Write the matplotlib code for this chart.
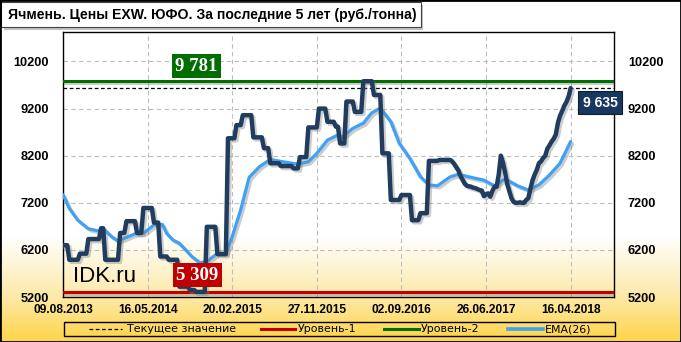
import numpy as np
import matplotlib
matplotlib.use("Agg")
import matplotlib.pyplot as plt
from matplotlib.patches import Rectangle
from matplotlib.lines import Line2D
import matplotlib.patheffects as pe

# ---------------- data ----------------
title = "Ячмень. Цены EXW. ЮФО. За последние 5 лет (руб./тонна)"
tick_labels = ["09.08.2013", "16.05.2014", "20.02.2015", "27.11.2015",
               "02.09.2016", "26.06.2017", "16.04.2018"]
tick_weeks = [0, 40, 80, 120, 160, 200, 240]
y_ticks = [5200, 6200, 7200, 8200, 9200, 10200]

# weekly price, руб./тонна
price = [
    6300, 6300, 6300,
    5990, 5990, 5990, 5990, 5990,
    6120, 6120, 6120, 6120,
    6430, 6430, 6430, 6430, 6430, 6430,
    6660, 6660,
    5990, 5990, 5990, 5990, 5990, 5990, 5990,
    6560, 6560, 6560,
    6810, 6810, 6810, 6810, 6810,
    6560, 6560, 6560,
    7090, 7090, 7090, 7090, 7090,
    6780, 6780, 6780,
    6060, 6060, 6060, 6060,
    5990, 5990, 5990, 5990, 5990,
    5420, 5420, 5420, 5420, 5420,
    5350, 5350, 5350,
    5309, 5309, 5309, 5309, 5309,
    6690, 6690, 6690, 6690, 6690,
    6110, 6110, 6110, 6110, 6110,
    8570, 8570, 8570, 8570,
    8850, 8850, 8850,
    9060, 9060, 9060, 9060, 9060,
    8590, 8590, 8590, 8590, 8590,
    8360, 8360, 8360,
    8040, 8040, 8040, 8040, 8040,
    7980, 7980, 7980, 7980, 7980, 7980,
    7930, 7930, 7930,
    8170, 8170, 8170, 8170,
    8800, 8800, 8800, 8800, 8800,
    9200, 9200, 9200, 9200,
    8920, 8920, 8920, 8920,
    8815, 8815,
    8460, 8460, 8460,
    9350, 9350, 9350, 9350,
    9130, 9130, 9130, 9130,
    9781, 9781, 9781, 9781, 9781,
    9490, 9490, 9490, 9490,
    8250, 8250, 8250, 8250,
    7260, 7260, 7260, 7260, 7260,
    7365, 7365, 7365, 7365, 7365,
    6830, 6830, 6830, 6830,
    6980, 6980, 6980, 6980,
    8090, 8090, 8090, 8090, 8090,
    8110, 8110, 8110, 8110, 8110, 8110,
    8080, 8020, 7950, 7880, 7760, 7680, 7600, 7560, 7550, 7540,
    7520, 7510, 7490, 7470, 7460, 7340, 7380, 7400, 7330, 7450,
    7540, 7540, 7800, 8200, 8050, 7850, 7600, 7450, 7300, 7220,
    7200, 7200, 7210, 7200, 7200, 7260, 7300, 7500, 7680, 7800,
    7900, 8040, 8080, 8150, 8200, 8350, 8420, 8500, 8560, 8650,
    8900, 9050, 9150, 9260, 9340, 9450, 9635,
]

# EMA(26)
ema_weeks = [0, 3, 7, 12, 17, 20, 23, 26, 29, 34,
             38, 43, 47, 49, 52, 55, 58, 61, 65, 69,
             73, 77, 80, 84, 88, 93, 98, 104, 111, 116,
             120, 125, 130, 132, 137, 142, 146, 150, 155, 159,
             164, 169, 173, 177, 183, 187, 192, 199, 204, 209,
             215, 220, 225, 230, 235, 240]
ema_values = [7370, 7080, 6830, 6650, 6600, 6610, 6480, 6390, 6445, 6540,
              6550, 6730, 6740, 6550, 6410, 6340, 6200, 6055, 5920, 5985,
              6130, 6130, 6480, 7050, 7740, 7970, 8120, 8070, 8020, 8070,
              8250, 8530, 8640, 8590, 8780, 8890, 9110, 9210, 8920, 8460,
              8140, 7750, 7580, 7560, 7750, 7805, 7750, 7680, 7560, 7710,
              7560, 7470, 7580, 7790, 8040, 8500]

level_1 = 5309
level_2 = 9781
current = 9635
legend_labels = ["Текущее значение", "Уровень-1", "Уровень-2", "EMA(26)"]
watermark = "IDK.ru"

# ---------------- styles ----------------
C_PRICE = "#203d5f"
C_EMA = "#3ea1f6"
C_RED = "#c00000"
C_GREEN = "#006e00"
C_NAVY = "#17375e"

W, H = 681, 342
fig = plt.figure(figsize=(W / 100, H / 100), dpi=100)


def fx(px):
    return px / W


def fy(py):
    return 1 - py / H


def fmt(v):
    return f"{v:,}".replace(",", " ")


# background gradient
bg = fig.add_axes([0, 0, 1, 1], zorder=-10)
rows = np.arange(H)
stops = [0, 235, 296, 342]
cols = np.array([[1, 1, 1], [1, 1, 1], [0.992, 0.914, 0.66], [1.0, 0.83, 0.27]])
grad = np.stack([np.interp(rows, stops, cols[:, k]) for k in range(3)], axis=1)
bg.imshow(np.repeat(grad[:, None, :], 2, axis=1), aspect="auto",
          extent=[0, 1, 0, 1], origin="upper")
bg.axis("off")

# main axes
ax = fig.add_axes([fx(63), 45 / H, (614 - 63) / W, (310 - 45) / H])
ax.set_facecolor("none")
ax.set_xlim(0, 260.5)
ax.set_ylim(5200, 10826)

ax.set_xticks(tick_weeks)
ax.set_xticklabels(tick_labels)
ax.set_yticks(y_ticks)
ax.tick_params(axis="both", length=0)
ax.tick_params(axis="y", labelleft=True, labelright=True, pad=10)
ax.tick_params(axis="x", pad=5)
for lab in ax.get_xticklabels():
    lab.set_fontfamily("Liberation Sans")
    lab.set_fontweight("bold")
    lab.set_fontsize(8.6)
for t in ax.yaxis.get_major_ticks():
    for lab in (t.label1, t.label2):
        lab.set_fontfamily("Liberation Sans")
        lab.set_fontweight("bold")
        lab.set_fontsize(9.2)

ax.grid(True, color="#bdbdbd", lw=0.8, ls=(0, (4, 3)))
ax.set_axisbelow(True)
for s in ax.spines.values():
    s.set_color("black")
    s.set_linewidth(1.0)

shadow = [pe.SimpleLineShadow(offset=(1.5, -1.5), shadow_color="#808080", alpha=0.4),
          pe.Normal()]

ax.axhline(level_2, color=C_GREEN, lw=2.2, zorder=3, path_effects=shadow)
ax.axhline(level_1, color=C_RED, lw=2.2, zorder=3, path_effects=shadow)
ax.axhline(current, color="black", lw=0.9, ls=(0, (3, 2)), zorder=3)

x = np.arange(len(price))
ax.plot(ema_weeks, ema_values, color=C_EMA, lw=2.3, zorder=4,
        solid_joinstyle="round", solid_capstyle="round", path_effects=shadow)
ax.plot(x, price, color=C_PRICE, lw=3.2, zorder=5,
        solid_joinstyle="round", solid_capstyle="round", path_effects=shadow)

# value labels
ax.text(63.0, 10104, fmt(level_2), color="white", fontsize=13.5, fontweight="bold",
        family="Liberation Serif", ha="center", va="center", zorder=8,
        bbox=dict(boxstyle="square,pad=0.18", fc=C_GREEN, ec="none"))
ax.text(63.4, 5667, fmt(level_1), color="white", fontsize=13.5, fontweight="bold",
        family="Liberation Serif", ha="center", va="center", zorder=8,
        bbox=dict(boxstyle="square,pad=0.18", fc=C_RED, ec="none"))
ax.text(253.9, 9329, fmt(current), color="white", fontsize=10, fontweight="bold",
        family="Liberation Sans", ha="center", va="center", zorder=8, clip_on=False,
        bbox=dict(boxstyle="square,pad=0.3", fc=C_NAVY, ec="#0b1e36", lw=0.8))

ax.text(4.7, 5518, watermark, fontsize=16, family="Liberation Sans",
        color="black", ha="left", va="baseline", zorder=6)

# title box
fig.add_artist(Rectangle((fx(4), fy(30)), fx(423) - fx(4), fy(5) - fy(30),
                         transform=fig.transFigure, fc="#9a9a9a", ec="none", alpha=0.6, zorder=1))
fig.add_artist(Rectangle((fx(1), fy(27)), fx(421) - fx(1), fy(2) - fy(27),
                         transform=fig.transFigure, fc="white", ec="#444444", lw=0.8, zorder=2))
fig.text(fx(8), fy(15.5), title, fontsize=10.1, fontweight="bold", family="Liberation Sans",
         ha="left", va="center", zorder=3)

# legend (manual)
ly = fy(329)
fig.add_artist(Rectangle((fx(64), fy(336)), fx(615) - fx(64), fy(321.5) - fy(336),
                         transform=fig.transFigure, fill=False, ec="black", lw=1.0))
leg = [((89, 122), dict(color="black", lw=0.9, ls=(0, (3, 2))), 127),
       ((261, 295), dict(color=C_RED, lw=2.2), 298),
       ((384, 419), dict(color=C_GREEN, lw=2.2), 421),
       ((508, 543), dict(color=C_EMA, lw=2.6), 545)]
for (x0, x1), st, tx in leg:
    fig.add_artist(Line2D([fx(x0), fx(x1)], [ly, ly], transform=fig.transFigure, **st))
for (_, _, tx), lab in zip(leg, legend_labels):
    fig.text(fx(tx), ly, lab, fontsize=7.9, family="DejaVu Sans", ha="left", va="center")

# outer border
fig.add_artist(Rectangle((0, 0), 1, 1, transform=fig.transFigure, fill=False,
                         ec="black", lw=2.0, zorder=20))

fig.savefig("out.png", dpi=100)
